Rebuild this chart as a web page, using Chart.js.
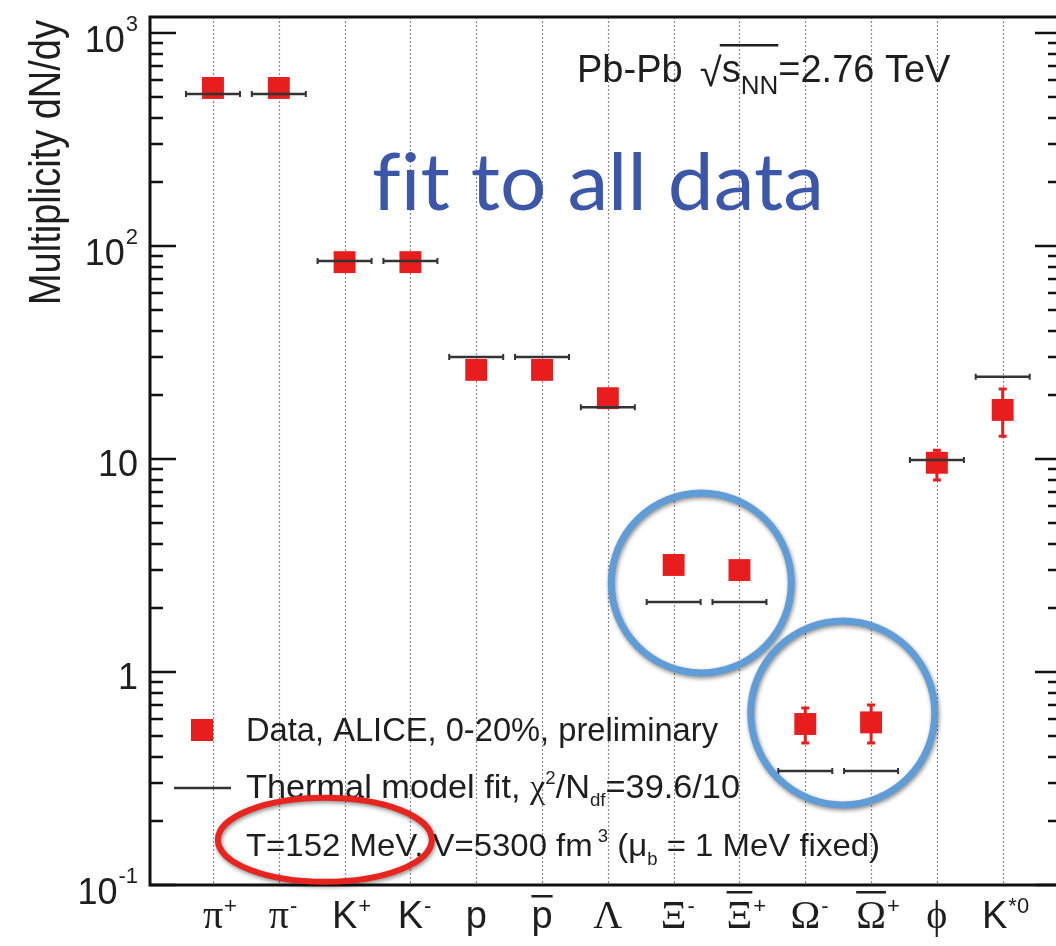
<!DOCTYPE html>
<html>
<head>
<meta charset="utf-8">
<script src="https://cdn.jsdelivr.net/npm/chart.js@4.4.1/dist/chart.umd.min.js"></script>
<style>
  html, body { margin: 0; padding: 0; background: #fff; }
  #wrap { width: 1056px; height: 946px; }
</style>
</head>
<body>
<div id="wrap"><canvas id="chart" width="1056" height="946"></canvas></div>
<script>
// particle species on the x axis (symbol, superscript, anti-particle bar)
const particles = ['π', 'π', 'K', 'K', 'p', 'p', 'Λ', 'Ξ', 'Ξ', 'Ω', 'Ω', 'ϕ', 'K'];
const particleSup = ['+', '-', '+', '-', '', '', '', '-', '+', '-', '+', '', '*0'];
const particleBar = [false, false, false, false, false, true, false, false, true, false, true, false, false];

// ALICE data, 0-20%, dN/dy
const dataValues = [552, 552, 84, 84, 26.2, 26.2, 19.3, 3.18, 3.01, 0.57, 0.58, 9.6, 17.0];
const dataErrLow = [552, 552, 84, 84, 26.2, 26.2, 19.3, 3.18, 3.01, 0.464, 0.464, 7.97, 12.8];
const dataErrHigh = [552, 552, 84, 84, 26.2, 26.2, 19.3, 3.18, 3.01, 0.678, 0.70, 11.0, 21.3];

// thermal model fit
const fitValues = [517, 517, 85, 85, 30.1, 30.1, 17.5, 2.13, 2.13, 0.343, 0.343, 9.9, 24.3];

// y axis decades
const yTickValues = [0.1, 1, 10, 100, 1000];
const yTickLabels = [['10', '-1'], ['1', ''], ['10', ''], ['10', '2'], ['10', '3']];

const RED = 'rgb(232, 30, 30)';
const INK = '#1e1e1e';
const SANS = '"Liberation Sans", Arial, sans-serif';
const SERIF = '"Liberation Serif", "Times New Roman", serif';

// draws a run of text pieces: [text, size, dy, family]; optional total width
const drawRich = (ctx, x, y, parts, width) => {
  ctx.save();
  ctx.textAlign = 'left';
  ctx.textBaseline = 'alphabetic';
  let total = 0;
  for (const [t, size, dy, fam] of parts) {
    ctx.font = `${size}px ${fam || SANS}`;
    total += ctx.measureText(t).width;
  }
  const sx = width ? width / total : 1;
  ctx.translate(x, y);
  ctx.scale(sx, 1);
  let cx = 0;
  for (const [t, size, dy, fam] of parts) {
    ctx.font = `${size}px ${fam || SANS}`;
    ctx.fillText(t, cx, dy || 0);
    cx += ctx.measureText(t).width;
  }
  ctx.restore();
  return x + cx * sx;
};

const decorations = {
  id: 'decorations',
  beforeDatasetsDraw(chart) {
    const { ctx, chartArea: a, scales: { x, y } } = chart;
    ctx.save();
    // dotted vertical lines at each species
    ctx.strokeStyle = '#8a8a8a';
    ctx.lineWidth = 1.2;
    ctx.setLineDash([2, 2]);
    particles.forEach((p, i) => {
      const px = Math.round(x.getPixelForValue(i)) + 0.5;
      ctx.beginPath();
      ctx.moveTo(px, a.top);
      ctx.lineTo(px, a.bottom);
      ctx.stroke();
    });
    ctx.setLineDash([]);
    // error bars on data
    ctx.strokeStyle = RED;
    ctx.lineWidth = 3;
    dataValues.forEach((v, i) => {
      if (dataErrLow[i] === dataErrHigh[i]) return;
      const px = x.getPixelForValue(i);
      const y1 = y.getPixelForValue(dataErrLow[i]);
      const y2 = y.getPixelForValue(dataErrHigh[i]);
      ctx.beginPath();
      ctx.moveTo(px, y1); ctx.lineTo(px, y2);
      ctx.moveTo(px - 4, y1); ctx.lineTo(px + 4, y1);
      ctx.moveTo(px - 4, y2); ctx.lineTo(px + 4, y2);
      ctx.stroke();
    });
    ctx.restore();
  },
  afterDatasetsDraw(chart) {
    const { ctx, chartArea: a, scales: { x, y } } = chart;
    ctx.save();

    // end caps on the fit segments
    ctx.strokeStyle = '#333';
    ctx.lineWidth = 2;
    fitValues.forEach((v, i) => {
      const px = x.getPixelForValue(i);
      const py = y.getPixelForValue(v);
      ctx.beginPath();
      ctx.moveTo(px - 27, py - 3); ctx.lineTo(px - 27, py + 3);
      ctx.moveTo(px + 27, py - 3); ctx.lineTo(px + 27, py + 3);
      ctx.stroke();
    });

    // frame
    ctx.strokeStyle = '#111';
    ctx.lineWidth = 3;
    ctx.beginPath();
    ctx.moveTo(a.right + 5, a.top);
    ctx.lineTo(a.left, a.top);
    ctx.lineTo(a.left, a.bottom);
    ctx.lineTo(a.right + 5, a.bottom);
    ctx.stroke();

    // log ticks, both sides, pointing inwards
    ctx.lineWidth = 2.5;
    const rightAxis = a.right + 5;
    yTickValues.forEach((dec) => {
      for (let k = 1; k <= 9; k++) {
        const v = dec * k;
        if (v > y.max) break;
        const py = Math.round(y.getPixelForValue(v));
        const len = k === 1 ? 26 : 13;
        ctx.beginPath();
        ctx.moveTo(a.left, py); ctx.lineTo(a.left + len, py);
        ctx.moveTo(rightAxis, py); ctx.lineTo(rightAxis - len, py);
        ctx.stroke();
      }
    });

    // y tick labels
    ctx.fillStyle = INK;
    yTickValues.forEach((v, i) => {
      const [base, sup] = yTickLabels[i];
      const py = y.getPixelForValue(v);
      let right = a.left - 12;
      ctx.textBaseline = 'alphabetic';
      ctx.textAlign = 'right';
      if (sup) {
        ctx.font = `22px ${SANS}`;
        ctx.fillText(sup, right, py - 2);
        right -= ctx.measureText(sup).width + 1;
        ctx.font = `36px ${SANS}`;
        ctx.fillText(base, right, py + 19);
      } else {
        ctx.font = `36px ${SANS}`;
        ctx.fillText(base, right, py + 17);
      }
    });

    // y axis title
    ctx.save();
    ctx.translate(60, 20);
    ctx.rotate(-Math.PI / 2);
    ctx.scale(1, 1.15);
    ctx.textAlign = 'right';
    ctx.textBaseline = 'alphabetic';
    ctx.font = `38px ${SANS}`;
    ctx.fillText('Multiplicity dN/dy', 0, 0);
    ctx.restore();

    // x labels
    particles.forEach((p, i) => {
      const px = x.getPixelForValue(i);
      const greek = /[^A-Za-z]/.test(p);
      ctx.font = greek ? `40px ${SERIF}` : `38px ${SANS}`;
      const w = ctx.measureText(p).width;
      const base = 928;
      const left = px - w / 2 - (particleSup[i].length > 1 ? 8 : 0);
      ctx.textAlign = 'left';
      ctx.fillText(p, left, base);
      if (particleSup[i]) {
        ctx.font = `22px ${SANS}`;
        ctx.fillText(particleSup[i], left + w + 1, base - 15);
      }
      if (particleBar[i]) {
        const by = p === 'p' ? 895 : 891;
        ctx.fillRect(left, by, w, 2.5);
      }
    });

    // system label
    ctx.fillStyle = INK;
    let cx = drawRich(ctx, 577, 82, [['Pb-Pb  ', 38]]);
    drawRich(ctx, cx - 4, 86, [['√', 40]]);
    const sStart = cx + 18;
    cx = drawRich(ctx, sStart, 82, [['s', 38]]);
    cx = drawRich(ctx, cx, 94, [['NN', 26]]);
    ctx.fillRect(sStart - 2, 44, cx - sStart + 2, 2.5);
    drawRich(ctx, cx, 82, [['=2.76 TeV', 38]]);

    // blue headline (letters drawn apart so no "fi" ligature forms)
    ctx.save();
    ctx.fillStyle = 'rgb(60, 86, 168)';
    ctx.font = `80px Lato, "Open Sans", sans-serif`;
    ctx.textBaseline = 'alphabetic';
    ctx.textAlign = 'left';
    const headline = ['f', 'it to all data'];
    const hw = headline.reduce((s, t) => s + ctx.measureText(t).width, 0);
    ctx.translate(372, 210);
    ctx.scale(452 / hw, 1);
    let hx = 0;
    headline.forEach((t) => { ctx.fillText(t, hx, 0); hx += ctx.measureText(t).width; });
    ctx.restore();

    // legend
    ctx.fillStyle = RED;
    ctx.fillRect(191, 719, 22, 22);
    ctx.strokeStyle = '#333';
    ctx.lineWidth = 2.5;
    ctx.beginPath();
    ctx.moveTo(174, 788); ctx.lineTo(231, 788);
    ctx.stroke();
    ctx.fillStyle = INK;
    drawRich(ctx, 246, 741, [['Data, ALICE, 0-20%, preliminary', 33]], 472);
    drawRich(ctx, 246, 798, [
      ['Thermal model fit, ', 33], ['χ', 33, 0, SERIF], ['2', 18, -14],
      ['/N', 33], ['df', 18, 8], ['=39.6/10', 33]
    ], 494);
    drawRich(ctx, 246, 856, [
      ['T=152 MeV, V=5300 fm', 32], [' 3', 18, -14], [' (μ', 32], ['b', 18, 9],
      [' = 1 MeV fixed)', 32]
    ], 634);

    // highlight marks
    ctx.shadowColor = 'rgba(0,0,0,0.45)';
    ctx.shadowBlur = 4;
    ctx.shadowOffsetX = 1;
    ctx.shadowOffsetY = 2;
    ctx.lineWidth = 7;
    ctx.strokeStyle = 'rgb(96, 157, 214)';
    [[7.42, 2.62, 90], [9.57, 0.642, 92]].forEach(([cxv, cyv, r]) => {
      ctx.beginPath();
      ctx.arc(x.getPixelForValue(cxv), y.getPixelForValue(cyv), r, 0, Math.PI * 2);
      ctx.stroke();
    });
    ctx.strokeStyle = 'rgb(232, 36, 30)';
    ctx.lineWidth = 6;
    ctx.beginPath();
    ctx.ellipse(x.getPixelForValue(1.70), y.getPixelForValue(0.163), 107, 42, 0, 0, Math.PI * 2);
    ctx.stroke();

    ctx.restore();
  }
};

const ctx = document.getElementById('chart').getContext('2d');
const chart = new Chart(ctx, {
  type: 'scatter',
  data: {
    datasets: [
      {
        label: 'Thermal model fit',
        data: fitValues.map((v, i) => ({ x: i, y: v })),
        pointStyle: 'line',
        pointRadius: 27,
        borderColor: '#333',
        borderWidth: 2.5,
        order: 0,
      },
      {
        label: 'Data, ALICE, 0-20%, preliminary',
        data: dataValues.map((v, i) => ({ x: i, y: v })),
        pointStyle: 'rect',
        pointRadius: 15.5,
        backgroundColor: RED,
        borderWidth: 0,
        order: 1,
      },
    ],
  },
  options: {
    responsive: false,
    devicePixelRatio: 1,
    animation: false,
    events: [],
    layout: { autoPadding: false, padding: { left: 150, top: 17, right: 0, bottom: 61 } },
    plugins: { legend: { display: false }, tooltip: { enabled: false } },
    scales: {
      x: { type: 'linear', display: false, min: -0.957, max: 12.81 },
      y: { type: 'logarithmic', display: false, min: 0.1, max: 1189 },
    },
  },
  plugins: [decorations],
});
</script>
</body>
</html>
